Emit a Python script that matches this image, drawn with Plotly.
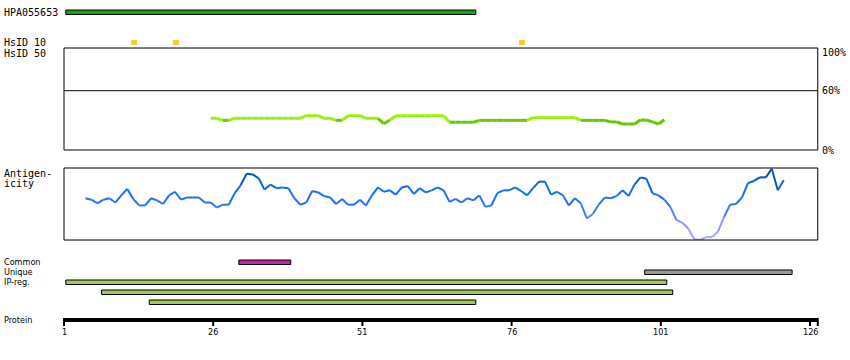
import plotly.graph_objects as go

# ---------------- data ----------------
protein_length = 127
tick_positions = [1, 26, 51, 76, 101, 126]
tick_labels = ["1", "26", "51", "76", "101", "126"]

antigen_name = "HPA055653"
antigen_region = (1, 69)

hsid10_residues = [12, 19, 77]

identity_start = 26
identity_values = [
    32.1, 32.1, 30.0, 30.0, 32.1, 32.1, 32.1, 32.1, 32.1, 32.1,   # 26-35
    32.1, 32.1, 32.1, 32.1, 32.1, 32.1, 34.7, 34.7, 34.7, 32.1,   # 36-45
    32.1, 30.0, 30.0, 34.7, 34.7, 34.7, 32.1, 32.1, 32.1, 26.6,   # 46-55
    30.4, 34.7, 34.7, 34.7, 34.7, 34.7, 34.7, 34.7, 34.7, 34.7,   # 56-65
    28.1, 28.1, 28.1, 28.1, 28.1, 30.0, 30.0, 30.0, 30.0, 30.0,   # 66-75
    30.0, 30.0, 30.0, 30.0, 32.7, 32.7, 32.7, 32.7, 32.7, 32.7,   # 76-85
    32.7, 32.7, 30.0, 30.0, 30.0, 30.0, 30.0, 28.4, 28.4, 26.3,   # 86-95
    26.3, 26.3, 30.3, 30.3, 28.4, 26.3, 30.6,                     # 96-102
]

antigenicity_start = 5
antigenicity_values = [
    58, 56, 51, 56, 58, 52, 62, 71, 57, 48,   # 5-14
    48, 58, 55, 50, 62, 67, 56, 59, 59, 59,   # 15-24
    52, 52, 45, 49, 49, 65, 76, 92, 91, 86,   # 25-34
    70, 77, 72, 73, 72, 58, 49, 52, 68, 66,   # 35-44
    61, 59, 50, 57, 49, 49, 56, 48, 62, 73,   # 45-54
    67, 69, 63, 73, 75, 64, 72, 66, 69, 73,   # 55-64
    69, 53, 57, 52, 58, 55, 62, 46, 48, 65,   # 65-74
    69, 69, 73, 68, 62, 72, 81, 81, 63, 67,   # 75-84
    62, 48, 58, 51, 30, 36, 49, 59, 58, 61,   # 85-94
    69, 61, 77, 87, 85, 65, 62, 56, 46, 28,   # 95-104
    24, 16, 1, 0, 4, 4, 12, 32, 49, 50,       # 105-114
    59, 79, 82, 87, 87, 99, 69, 83,           # 115-122
]

common_regions = [(30, 38)]
unique_regions = [(98, 122)]
ipreg_regions = [(1, 101), (7, 102), (15, 69)]

# ---------------- layout constants ----------------
W, H = 850, 360
X0_PX = 64.0
PX_PER_RES = 5.968
X_END = protein_length + 0.3
PT_OFF = -0.4  # drawing offset of per-residue points
ID_TOP = 103.2  # identity scale value at the top edge of its box
ID_SPLIT = 31   # identity colour threshold


def px_to_res(px):
    return 1 + (px - X0_PX) / PX_PER_RES


MONO = "DejaVu Sans Mono"
NARROW = "Liberation Sans Narrow, DejaVu Sans Condensed, sans-serif"

fig = go.Figure()
shapes = []
annotations = []


def label(text, px, py, font=MONO, size=10, anchor="left"):
    annotations.append(dict(text=text, x=px / W, y=py, xref="paper", yref="y",
                            xanchor=anchor, yanchor="middle", showarrow=False,
                            font=dict(family=font, size=size, color="black")))


# --- antigen bar ---
shapes.append(dict(type="rect", xref="x", yref="y", x0=antigen_region[0] + 0.3,
                   x1=antigen_region[1] + 1, y0=10, y1=14.5,
                   fillcolor="#1e9e1e", line=dict(color="black", width=1)))
label(antigen_name, 2, 12)

# --- HsID 10 squares ---
for r in hsid10_residues:
    shapes.append(dict(type="rect", xref="x", yref="y", x0=r + 0.25, x1=r + 1.25,
                       y0=40, y1=45, fillcolor="#ffc926", line=dict(width=0)))
label("HsID 10", 2, 42)
label("HsID 50", 2, 53)

# --- identity box ---
shapes.append(dict(type="rect", xref="x", yref="y2 domain", x0=1, x1=X_END, y0=0, y1=1,
                   line=dict(color="black", width=1), fillcolor="rgba(0,0,0,0)"))
shapes.append(dict(type="line", xref="x", yref="y2", x0=1, x1=X_END, y0=60, y1=60,
                   line=dict(color="black", width=1)))
label("100%", 820, 52)
label("60%", 820, 90)
label("0%", 820, 150)

id_x = [identity_start + i + PT_OFF for i in range(len(identity_values))]
for i in range(len(identity_values) - 1):
    v = (identity_values[i] + identity_values[i + 1]) / 2
    col = "#99f20a" if v >= ID_SPLIT else "#66c800"
    fig.add_trace(go.Scatter(x=id_x[i:i + 2], y=identity_values[i:i + 2], mode="lines",
                             line=dict(color=col, width=3), yaxis="y2",
                             hoverinfo="skip", showlegend=False))

# --- antigenicity box ---
shapes.append(dict(type="rect", xref="x", yref="y3 domain", x0=1, x1=X_END, y0=0, y1=1,
                   line=dict(color="black", width=1), fillcolor="rgba(0,0,0,0)"))
label("Antigen-", 2, 173)
label("icity", 2, 183)


def ag_color(v):
    stops = [(0, (176, 168, 250)), (25, (128, 150, 255)), (45, (40, 120, 250)),
             (70, (20, 110, 240)), (85, (0, 90, 200)), (100, (0, 70, 160))]
    for (a, ca), (b, cb) in zip(stops[:-1], stops[1:]):
        if v <= b:
            t = (v - a) / (b - a)
            c = [round(ca[k] + (cb[k] - ca[k]) * t) for k in range(3)]
            return "rgb(%d,%d,%d)" % tuple(c)
    return "rgb(0,70,160)"


ag_x = [antigenicity_start + i + PT_OFF for i in range(len(antigenicity_values))]
for i in range(len(antigenicity_values) - 1):
    v = (antigenicity_values[i] + antigenicity_values[i + 1]) / 2
    fig.add_trace(go.Scatter(x=ag_x[i:i + 2], y=antigenicity_values[i:i + 2], mode="lines",
                             line=dict(color=ag_color(v), width=2), yaxis="y3",
                             hoverinfo="skip", showlegend=False))

# --- regions ---
def region_bars(regions, y_top, color):
    for k, (s, e) in enumerate(regions):
        yt = y_top + 10 * k
        shapes.append(dict(type="rect", xref="x", yref="y", x0=s + 0.3, x1=e + 1,
                           y0=yt, y1=yt + 4.5, fillcolor=color,
                           line=dict(color="black", width=1)))


region_bars(common_regions, 260, "#cc1fa8")
region_bars(unique_regions, 270, "#999999")
region_bars(ipreg_regions, 280, "#a3c85a")
label("Common", 2, 262, NARROW, 9)
label("Unique", 2, 272, NARROW, 9)
label("IP-reg.", 2, 282, NARROW, 9)

# --- protein axis ---
shapes.append(dict(type="line", xref="x", yref="y", x0=1, x1=X_END, y0=320, y1=320,
                   line=dict(color="black", width=4)))
for t, lab in zip(tick_positions, tick_labels):
    shapes.append(dict(type="line", xref="x", yref="y", x0=t, x1=t, y0=318, y1=326,
                       line=dict(color="black", width=2)))
    annotations.append(dict(text=lab, x=t, y=332, xref="x", yref="y", xanchor="center",
                            yanchor="middle", showarrow=False,
                            font=dict(family=NARROW, size=9, color="black")))
shapes.append(dict(type="line", xref="x", yref="y", x0=X_END, x1=X_END, y0=318, y1=326,
                   line=dict(color="black", width=2)))
label("Protein", 2, 320, NARROW, 9)

fig.update_layout(
    width=W, height=H, margin=dict(l=0, r=0, t=0, b=0),
    paper_bgcolor="white", plot_bgcolor="white", showlegend=False,
    xaxis=dict(range=[px_to_res(0), px_to_res(W)], visible=False, fixedrange=True),
    yaxis=dict(range=[H, 0], domain=[0, 1], visible=False, fixedrange=True),
    yaxis2=dict(range=[0, ID_TOP], domain=[(H - 150) / H, (H - 48) / H], visible=False,
                anchor="x", fixedrange=True),
    yaxis3=dict(range=[0, 100], domain=[(H - 240) / H, (H - 168) / H], visible=False,
                anchor="x", fixedrange=True),
    shapes=shapes, annotations=annotations,
)

fig.write_html("out.html", config={"staticPlot": True},
               post_script="document.body.style.margin='0';document.body.style.overflow='hidden';")
